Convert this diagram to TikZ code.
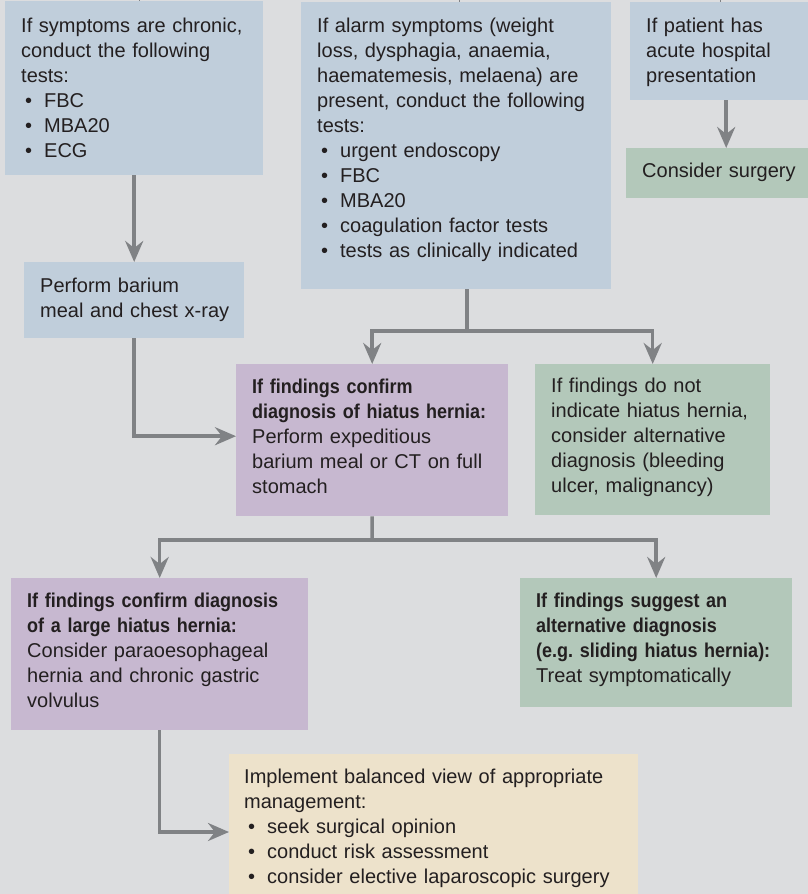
\documentclass[tikz,border=0pt]{standalone}
\usepackage{fontspec}
\setmainfont{Liberation Sans}[BoldFeatures={FakeStretch=0.9}]
\usepackage{tikz}
\usetikzlibrary{arrows.meta}
\frenchspacing

\definecolor{bg}{HTML}{DCDDDF}
\definecolor{boxblue}{HTML}{C0CEDB}
\definecolor{boxgreen}{HTML}{B3C8BA}
\definecolor{boxpurple}{HTML}{C7B8D0}
\definecolor{boxyellow}{HTML}{EDE2CB}
\definecolor{ink}{HTML}{231F20}
\definecolor{wire}{HTML}{808285}

\newcommand{\itm}[1]{\hspace*{4pt}\makebox[19pt][l]{\textbullet}#1}

\tikzset{
    box/.style={anchor=north west, align=left, inner xsep=16pt, inner ysep=0pt,
        text=ink, font=\fontsize{20}{25}\selectfont},
    bluebox/.style={box, fill=boxblue},
    greenbox/.style={box, fill=boxgreen},
    purplebox/.style={box, fill=boxpurple},
    yellowbox/.style={box, fill=boxyellow, inner xsep=15pt},
    arr/.style={draw=wire, line width=3.5pt,
        -{Stealth[length=21pt, width=18pt, inset=7pt]}},
    wireline/.style={draw=wire, line width=3.5pt},
    stub/.style={draw=wire, line width=1pt}
}

\begin{document}
\begin{tikzpicture}[x=1pt, y=-1pt]
    \path[use as bounding box] (0,0) rectangle (808,894);
    \clip (0,0) rectangle (808,894);
    \fill[bg] (0,0) rectangle (808,894);

    % top row
    \node[bluebox, text width=226pt, text height=31pt, text depth=143pt] (chronic) at (5,1)
        {If symptoms are chronic,\\ conduct the following\\ tests:\\
         \itm{FBC}\\ \itm{MBA20}\\ \itm{ECG}};
    \node[bluebox, text width=278pt, text height=30pt, text depth=257pt] (alarm) at (301,2)
        {If alarm symptoms (weight\\ loss, dysphagia, anaemia,\\
         haematemesis, melaena) are\\ present, conduct the following\\ tests:\\
         \itm{urgent endoscopy}\\ \itm{FBC}\\ \itm{MBA20}\\
         \itm{coagulation factor tests}\\ \itm{tests as clinically indicated}};
    \node[bluebox, text width=160pt, text height=30pt, text depth=68pt] (patient) at (630,2)
        {If patient has\\ acute hospital\\ presentation};
    \node[greenbox, text width=168pt, text height=29pt, text depth=21pt] (surgery) at (626,148)
        {Consider surgery};

    \node[bluebox, text width=188pt, text height=30pt, text depth=46pt] (barium) at (24,262)
        {Perform barium\\ \mbox{meal and chest x-ray}};

    % findings
    \node[purplebox, text width=240pt, text height=29pt, text depth=123pt] (hiatus) at (236,364)
        {\textbf{If findings confirm}\\ \textbf{diagnosis of hiatus hernia:}\\
         Perform expeditious\\ barium meal or CT on full\\ stomach};
    \node[greenbox, text width=203pt, text height=28pt, text depth=123pt] (notind) at (535,364)
        {If findings do not\\ indicate hiatus hernia,\\ consider alternative\\
         diagnosis (bleeding\\ ulcer, malignancy)};

    \node[purplebox, text width=265pt, text height=29pt, text depth=123pt] (large) at (11,578)
        {\textbf{If findings confirm diagnosis}\\ \textbf{of a large hiatus hernia:}\\
         Consider paraoesophageal\\ hernia and chronic gastric\\ volvulus};
    \node[greenbox, text width=240pt, text height=29pt, text depth=100pt] (suggest) at (520,578)
        {\textbf{If findings suggest an}\\ \textbf{alternative diagnosis}\\
         \textbf{(e.g. sliding hiatus hernia):}\\ Treat symptomatically};

    \node[yellowbox, text width=379pt, text height=29pt, text depth=130pt] (manage) at (229,754)
        {Implement balanced view of appropriate\\ management:\\
         \itm{seek surgical opinion}\\ \itm{conduct risk assessment}\\
         \itm{consider elective laparoscopic surgery}};

    % stubs from above
    \coordinate (in1) at (139,0);
    \coordinate (in2) at (459,0);
    \coordinate (in3) at (720,0);
    \draw[stub] (in1) -- (in1 |- chronic.north);
    \draw[stub] (in2) -- (in2 |- alarm.north);
    \draw[stub] (in3) -- (in3 |- patient.north);

    % connectors
    \draw[arr] (chronic.south) -- (chronic.south |- barium.north);
    \draw[arr] (patient.south) -- (patient.south |- surgery.north);
    \draw[arr] (barium.south) |- ([yshift=4pt]hiatus.west);

    \coordinate (split1) at (467,331);
    \draw[wireline] (split1 |- alarm.south) -- (split1);
    \draw[arr] (split1) -| (hiatus.north);
    \draw[arr] (split1) -| (notind.north);

    \coordinate (split2) at (372,540);
    \draw[wireline] (hiatus.south) -- (split2);
    \draw[arr] (split2) -| (large.north);
    \draw[arr] (split2) -| (suggest.north);

    \draw[arr] (large.south) |- ([yshift=-78pt]manage.north west);
\end{tikzpicture}
\end{document}
